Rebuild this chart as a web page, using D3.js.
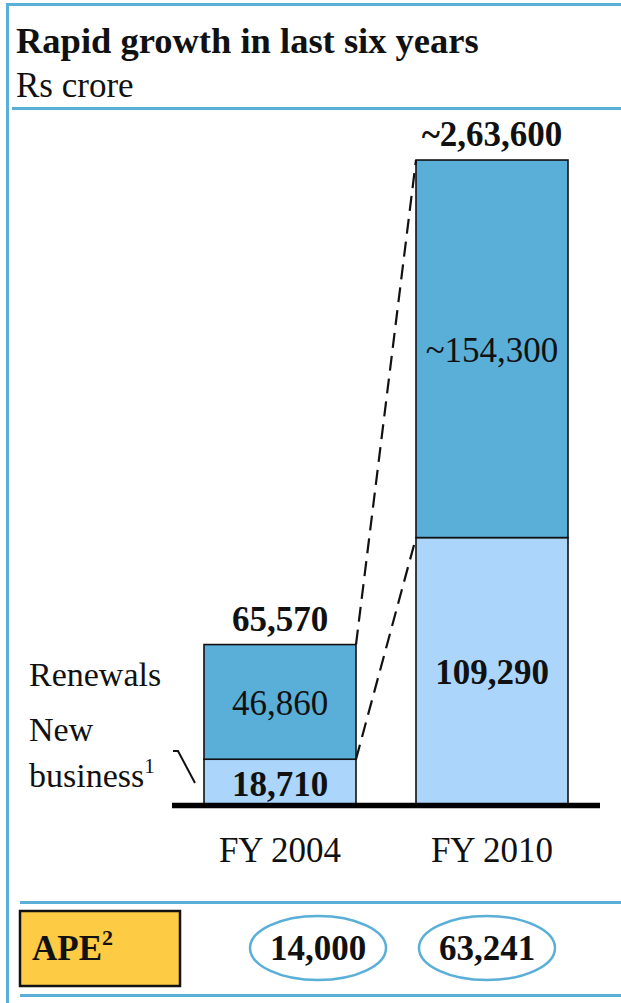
<!DOCTYPE html>
<html><head><meta charset="utf-8">
<script src="https://cdn.jsdelivr.net/npm/d3@7"></script>
<style>
html,body{margin:0;padding:0;background:#fff;}
svg{display:block;}
</style></head>
<body><svg id="c" width="621" height="1003"></svg>
<script>
const categories = ["FY 2004", "FY 2010"];
const newBusiness = [18710, 109290];
const renewals = [46860, 154300];
const newLabels = ["18,710", "109,290"];
const renewalLabels = ["46,860", "~154,300"];
const totalLabels = ["65,570", "~2,63,600"];
const apeValues = [14000, 63241];
const apeLabels = ["14,000", "63,241"];

const FONT = "Liberation Serif";
const svg = d3.select("#c");
const BLUE = "#5AAFD8", LIGHT = "#ABD5FB", YELLOW = "#FDCB44", INK = "#111";
const txt = (sel) => sel.style("font-family", FONT).style("fill", INK);

// frame
svg.append("line").attr("x1",7).attr("x2",621).attr("y1",4.5).attr("y2",4.5).attr("stroke",BLUE).attr("stroke-width",3);
svg.append("line").attr("x1",7.5).attr("x2",7.5).attr("y1",3).attr("y2",1003).attr("stroke",BLUE).attr("stroke-width",3);
svg.append("line").attr("x1",12).attr("x2",621).attr("y1",108.5).attr("y2",108.5).attr("stroke",BLUE).attr("stroke-width",3);
svg.append("line").attr("x1",20).attr("x2",621).attr("y1",902.5).attr("y2",902.5).attr("stroke",BLUE).attr("stroke-width",3);
svg.append("line").attr("x1",20).attr("x2",621).attr("y1",995.5).attr("y2",995.5).attr("stroke",BLUE).attr("stroke-width",3);

// title
svg.append("text").attr("x",16).attr("y",53).attr("font-size",36.5).attr("font-weight","bold").text("Rapid growth in last six years").call(txt);
svg.append("text").attr("x",16).attr("y",97).attr("font-size",35).text("Rs crore").call(txt);

// scales
const x = d3.scaleBand().domain(categories).range([151,621]).paddingInner(60/212).paddingOuter(0.25);
const y = d3.scaleLinear().domain([0,263600]).range([805,160]);

const stacked = categories.map((c,i)=>({c, nb:newBusiness[i], rn:renewals[i], tot:newBusiness[i]+renewals[i], i}));

const g = svg.append("g");
g.selectAll("rect.nb").data(stacked).join("rect").attr("class","nb")
  .attr("x",d=>x(d.c)).attr("width",x.bandwidth())
  .attr("y",d=>y(d.nb)).attr("height",d=>y(0)-y(d.nb))
  .attr("fill",LIGHT).attr("stroke",INK).attr("stroke-width",1.6);
g.selectAll("rect.rn").data(stacked).join("rect").attr("class","rn")
  .attr("x",d=>x(d.c)).attr("width",x.bandwidth())
  .attr("y",d=>y(d.tot)).attr("height",d=>y(d.nb)-y(d.tot))
  .attr("fill",BLUE).attr("stroke",INK).attr("stroke-width",1.6);

// dashed connectors
const a = stacked[0], b = stacked[1];
[[a.tot,b.tot],[a.nb,b.nb]].forEach(([v0,v1])=>{
  svg.append("line").attr("x1",x(a.c)+x.bandwidth()).attr("y1",y(v0))
    .attr("x2",x(b.c)).attr("y2",y(v1))
    .attr("stroke",INK).attr("stroke-width",2.2).attr("stroke-dasharray","15,8");
});

// baseline
svg.append("line").attr("x1",172).attr("x2",600).attr("y1",y(0)+0.5).attr("y2",y(0)+0.5).attr("stroke","#000").attr("stroke-width",5.5);

// labels in bars
const cx = d=>x(d.c)+x.bandwidth()/2;
g.selectAll("text.nbl").data(stacked).join("text").attr("class","nbl")
  .attr("x",cx).attr("y",d=> d.i===0 ? y(0)-9 : (y(0)+y(d.nb))/2+13)
  .attr("text-anchor","middle").attr("font-size",35).attr("font-weight","bold")
  .text(d=>newLabels[d.i]).call(txt);
g.selectAll("text.rnl").data(stacked).join("text").attr("class","rnl")
  .attr("x",cx).attr("y",d=>(y(d.nb)+y(d.tot))/2+13)
  .attr("text-anchor","middle").attr("font-size",35)
  .text(d=>renewalLabels[d.i]).call(txt);
g.selectAll("text.tot").data(stacked).join("text").attr("class","tot")
  .attr("x",cx).attr("y",d=>y(d.tot)-14)
  .attr("text-anchor","middle").attr("font-size",35).attr("font-weight","bold")
  .text(d=>totalLabels[d.i]).call(txt);

// axis labels
const xAxis = svg.append("g").attr("transform",`translate(0,${y(0)})`)
  .call(d3.axisBottom(x).tickSize(0).tickPadding(40));
xAxis.select(".domain").remove();
xAxis.selectAll("text").attr("font-size",35).attr("dy",0).attr("y",57).call(txt);

// legend labels
svg.append("text").attr("x",29).attr("y",686).attr("font-size",34).text("Renewals").call(txt);
svg.append("text").attr("x",29).attr("y",741).attr("font-size",34).text("New").call(txt);
const bt = svg.append("text").attr("x",29).attr("y",787).attr("font-size",34).call(txt);
bt.append("tspan").text("business");
bt.append("tspan").attr("font-size",21).attr("dy",-14).text("1");
svg.append("path").attr("d","M173,751 L178,751 L195,783").attr("fill","none").attr("stroke",INK).attr("stroke-width",2);

// APE row
svg.append("rect").attr("x",20).attr("y",911).attr("width",160).attr("height",75)
  .attr("fill",YELLOW).attr("stroke",INK).attr("stroke-width",2.5);
const at = svg.append("text").attr("x",32).attr("y",960).attr("font-size",35).attr("font-weight","bold").call(txt);
at.append("tspan").text("APE");
at.append("tspan").attr("font-size",22).attr("dy",-15).text("2");

const ex = d3.scalePoint().domain(categories).range([318,487]);
const apeData = categories.map((c,i)=>({c,v:apeValues[i],l:apeLabels[i],i}));
svg.selectAll("ellipse.ape").data(apeData).join("ellipse").attr("class","ape")
  .attr("cx",d=>ex(d.c)).attr("cy",948).attr("rx",68).attr("ry",32)
  .attr("fill","#fff").attr("stroke",BLUE).attr("stroke-width",2.5);
svg.selectAll("text.apel").data(apeData).join("text").attr("class","apel")
  .attr("x",d=>ex(d.c)).attr("y",960).attr("text-anchor","middle")
  .attr("font-size",35).attr("font-weight","bold").text(d=>d.l).call(txt);
</script></body></html>
